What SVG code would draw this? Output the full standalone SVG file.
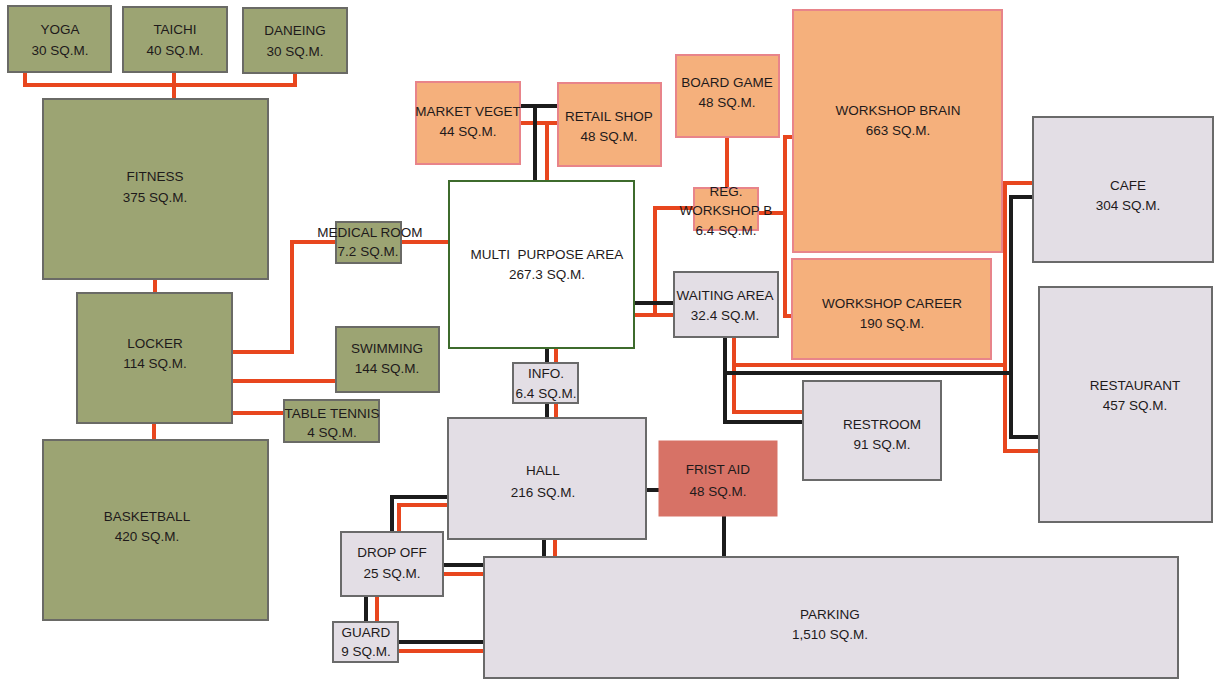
<svg xmlns="http://www.w3.org/2000/svg" width="1218" height="680" viewBox="0 0 1218 680">
<style>
.g{fill:#9ca473;stroke:#6a6a66;stroke-width:2}
.o{fill:#f5b07c;stroke:#e8848a;stroke-width:2}
.l{fill:#e3dee5;stroke:#6a6a6a;stroke-width:2}
.f{fill:#d77266;stroke:#d77266;stroke-width:1}
.m{fill:#ffffff;stroke:#3d6b2c;stroke-width:2}
.r{fill:none;stroke:#e8461e;stroke-width:4}
.k{fill:none;stroke:#1c1c1c;stroke-width:4}
text{font-family:"Liberation Sans",Arial,sans-serif;font-size:13.5px;fill:#1e1a1b;text-anchor:middle}
</style>
<rect width="1218" height="680" fill="#ffffff"/>
<g id="connectors">
<path class="r" d="M25,72 V85 H295 V73 M174,72 V99 M155,279 V293 M154,423 V440 M232,352 H292 V242 H336 M401,242 H449 M232,381 H336 M232,413 H284 M520,123 H558 M547,123 V181 M556,348 V363 M556,403 V418 M634,315 H674 M655,315 V208 H694 M727,137 V188 M758,213 H785 M793,137 H785 V316 H792 M734,337 V412 H803 M734,365 H1005 M1033,183 H1005 V451 H1039 M399,532 V505 H448 M555,539 V557 M443,574 H484 M377,596 V622 M398,651 H484"/>
<path class="k" d="M520,106 H558 M535,106 V181 M547,348 V363 M547,403 V418 M634,303 H674 M725,337 V422 H803 M725,373 H1011 M1033,197 H1011 V437 H1039 M646,490 H659 M724,516 V557 M392,532 V497 H448 M544,539 V557 M443,565 H484 M366,596 V622 M398,642 H484"/>
</g>
<g id="yoga"><rect class="g" x="8" y="6" width="103" height="66"/><text x="60" y="34">YOGA</text><text x="60" y="55">30 SQ.M.</text></g>
<g id="taichi"><rect class="g" x="123" y="7" width="104" height="65"/><text x="175" y="34">TAICHI</text><text x="175" y="55">40 SQ.M.</text></g>
<g id="daneing"><rect class="g" x="243" y="8" width="104" height="65"/><text x="295" y="35">DANEING</text><text x="295" y="56">30 SQ.M.</text></g>
<g id="fitness"><rect class="g" x="43" y="99" width="225" height="180"/><text x="155" y="181">FITNESS</text><text x="155" y="202">375 SQ.M.</text></g>
<g id="locker"><rect class="g" x="77" y="293" width="155" height="130"/><text x="155" y="348">LOCKER</text><text x="155" y="368">114 SQ.M.</text></g>
<g id="basketball"><rect class="g" x="43" y="440" width="225" height="180"/><text x="147" y="521">BASKETBALL</text><text x="147" y="541">420 SQ.M.</text></g>
<g id="medical"><rect class="g" x="336" y="222" width="65" height="41"/><text x="370" y="237">MEDICAL ROOM</text><text x="368" y="256">7.2 SQ.M.</text></g>
<g id="swimming"><rect class="g" x="336" y="327" width="103" height="65"/><text x="387" y="353">SWIMMING</text><text x="387" y="373">144 SQ.M.</text></g>
<g id="tabletennis"><rect class="g" x="284" y="400" width="95" height="42"/><text x="332" y="418">TABLE TENNIS</text><text x="332" y="437">4 SQ.M.</text></g>
<g id="multipurpose"><rect class="m" x="449" y="181" width="185" height="167"/><text x="547" y="259">MULTI&#160; PURPOSE AREA</text><text x="547" y="279">267.3 SQ.M.</text></g>
<g id="info"><rect class="l" x="513" y="363" width="65" height="40"/><text x="546" y="378">INFO.</text><text x="546" y="398">6.4 SQ.M.</text></g>
<g id="market"><rect class="o" x="416" y="82" width="104" height="82"/><text x="468" y="116">MARKET VEGET</text><text x="468" y="136">44 SQ.M.</text></g>
<g id="retail"><rect class="o" x="558" y="83" width="103" height="83"/><text x="609" y="121">RETAIL SHOP</text><text x="609" y="141">48 SQ.M.</text></g>
<g id="boardgame"><rect class="o" x="676" y="55" width="103" height="82"/><text x="727" y="87">BOARD GAME</text><text x="727" y="107">48 SQ.M.</text></g>
<g id="regworkshop"><rect class="o" x="694" y="188" width="64" height="42"/><text x="726" y="196">REG.</text><text x="726" y="215">WORKSHOP B</text><text x="726" y="235">6.4 SQ.M.</text></g>
<g id="workshopbrain"><rect class="o" x="793" y="10" width="209" height="242"/><text x="898" y="115">WORKSHOP BRAIN</text><text x="898" y="135">663 SQ.M.</text></g>
<g id="workshopcareer"><rect class="o" x="792" y="259" width="199" height="100"/><text x="892" y="308">WORKSHOP CAREER</text><text x="892" y="328">190 SQ.M.</text></g>
<g id="waiting"><rect class="l" x="674" y="272" width="104" height="65"/><text x="725" y="300">WAITING AREA</text><text x="725" y="320">32.4 SQ.M.</text></g>
<g id="restroom"><rect class="l" x="803" y="381" width="138" height="99"/><text x="882" y="429">RESTROOM</text><text x="882" y="449">91 SQ.M.</text></g>
<g id="cafe"><rect class="l" x="1033" y="117" width="180" height="145"/><text x="1128" y="190">CAFE</text><text x="1128" y="210">304 SQ.M.</text></g>
<g id="restaurant"><rect class="l" x="1039" y="287" width="173" height="235"/><text x="1135" y="390">RESTAURANT</text><text x="1135" y="410">457 SQ.M.</text></g>
<g id="hall"><rect class="l" x="448" y="418" width="198" height="121"/><text x="543" y="475">HALL</text><text x="543" y="497">216 SQ.M.</text></g>
<g id="firstaid"><rect class="f" x="659" y="441" width="118" height="75"/><text x="718" y="474">FRIST AID</text><text x="718" y="496">48 SQ.M.</text></g>
<g id="dropoff"><rect class="l" x="341" y="532" width="102" height="64"/><text x="392" y="557">DROP OFF</text><text x="392" y="578">25 SQ.M.</text></g>
<g id="guard"><rect class="l" x="333" y="622" width="65" height="40"/><text x="366" y="637">GUARD</text><text x="366" y="656">9 SQ.M.</text></g>
<g id="parking"><rect class="l" x="484" y="557" width="694" height="121"/><text x="830" y="619">PARKING</text><text x="830" y="639">1,510 SQ.M.</text></g>
</svg>
